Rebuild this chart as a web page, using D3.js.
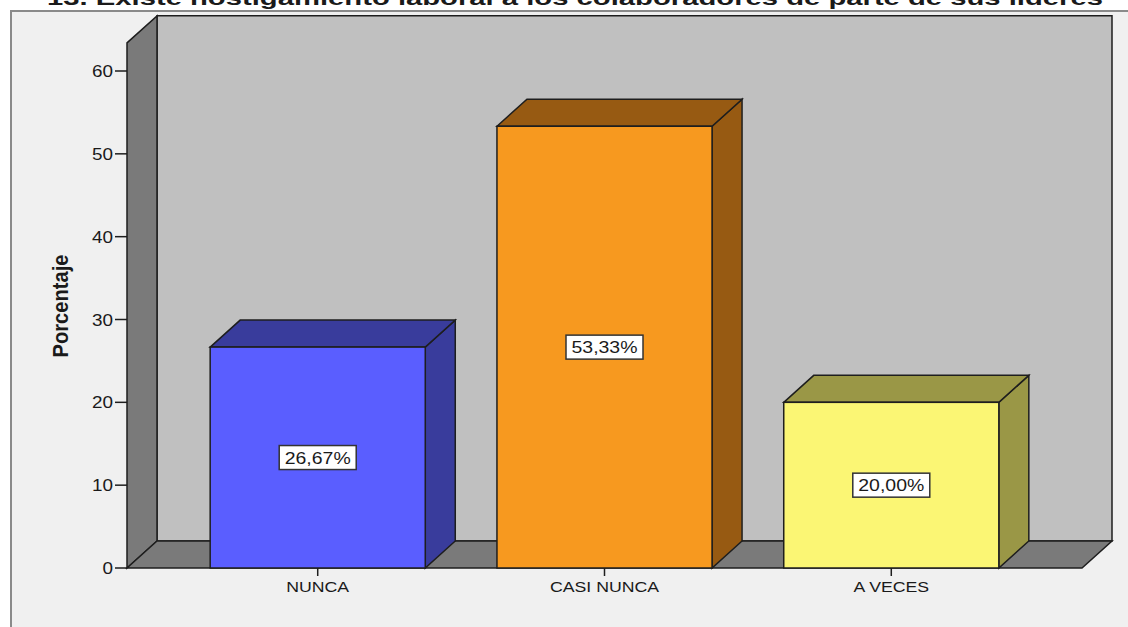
<!DOCTYPE html>
<html>
<head>
<meta charset="utf-8">
<script src="https://cdn.jsdelivr.net/npm/d3@7"></script>
<style>
  html, body { margin: 0; padding: 0; background: #ffffff; }
  svg { display: block; }
  text { font-family: "Liberation Sans", Arial, sans-serif; fill: #1a1a1a; }
</style>
</head>
<body>
<svg id="chart" width="1128" height="627"></svg>
<script>
// Data
const titleText = "13. Existe hostigamiento laboral a los colaboradores de parte de sus líderes";
const categories = ["NUNCA", "CASI NUNCA", "A VECES"];
const percentages = [26.67, 53.33, 20.00];
const valueLabels = ["26,67%", "53,33%", "20,00%"];
const yTicks = [0, 10, 20, 30, 40, 50, 60];
const axisTitle = "Porcentaje";
const frontColors = ["#5a5eff", "#f7991f", "#fbf674"];
const shadeColors = ["#393c9c", "#975a12", "#9a9746"];

const svg = d3.select("#chart");
const W = 1128, H = 627;

// Plot geometry (front plane) and 3D depth offset
const plotLeft = 127, plotRight = 1082, base = 568;
const depthX = 30, depthY = 27;
const axisMax = 63.4;
const hStretch = 1.18; // horizontal glyph stretch used by all labels

const y = d3.scaleLinear().domain([0, 60]).range([base, 71]);
const x = d3.scaleBand().domain(categories).range([plotLeft, plotRight])
  .paddingInner(0.25).paddingOuter(0.29);

const edge = "#1e1e1e";

// Outer frame
svg.append("rect").attr("x", 0).attr("y", 0).attr("width", W).attr("height", H).attr("fill", "#ffffff");
svg.append("rect").attr("x", 11).attr("y", 11).attr("width", W + 20).attr("height", H + 20)
  .attr("fill", "#f0f0f0").attr("stroke", "#8a8a8a").attr("stroke-width", 2);

// Title, partially above the top edge
svg.append("text")
  .attr("x", 575).attr("y", 5)
  .attr("text-anchor", "middle")
  .attr("font-size", 21).attr("font-weight", "bold")
  .attr("textLength", 1056).attr("lengthAdjust", "spacingAndGlyphs")
  .text(titleText);

const wallTop = y(axisMax);
const pts = a => a.map(p => p.join(",")).join(" ");

// Back wall
svg.append("polygon")
  .attr("points", pts([[plotLeft + depthX, wallTop - depthY], [plotRight + depthX, wallTop - depthY],
                       [plotRight + depthX, base - depthY], [plotLeft + depthX, base - depthY]]))
  .attr("fill", "#c0c0c0").attr("stroke", edge).attr("stroke-width", 1.5);

// Left side wall
svg.append("polygon")
  .attr("points", pts([[plotLeft, wallTop], [plotLeft + depthX, wallTop - depthY],
                       [plotLeft + depthX, base - depthY], [plotLeft, base]]))
  .attr("fill", "#7a7a7a").attr("stroke", edge).attr("stroke-width", 1.5);

// Floor
svg.append("polygon")
  .attr("points", pts([[plotLeft, base], [plotLeft + depthX, base - depthY],
                       [plotRight + depthX, base - depthY], [plotRight, base]]))
  .attr("fill", "#7a7a7a").attr("stroke", edge).attr("stroke-width", 1.5);

// Bars
const bars = svg.append("g");
categories.forEach((c, i) => {
  const x0 = x(c), x1 = x0 + x.bandwidth(), yv = y(percentages[i]);
  const g = bars.append("g");
  g.append("polygon")
    .attr("points", pts([[x1, yv], [x1 + depthX, yv - depthY], [x1 + depthX, base - depthY], [x1, base]]))
    .attr("fill", shadeColors[i]).attr("stroke", edge).attr("stroke-width", 1.5);
  g.append("polygon")
    .attr("points", pts([[x0, yv], [x0 + depthX, yv - depthY], [x1 + depthX, yv - depthY], [x1, yv]]))
    .attr("fill", shadeColors[i]).attr("stroke", edge).attr("stroke-width", 1.5);
  g.append("rect")
    .attr("x", x0).attr("y", yv).attr("width", x1 - x0).attr("height", base - yv)
    .attr("fill", frontColors[i]).attr("stroke", edge).attr("stroke-width", 1.5);
});

// Y axis ticks and labels
const yAxis = svg.append("g");
yTicks.forEach(t => {
  yAxis.append("line")
    .attr("x1", plotLeft - 12).attr("x2", plotLeft).attr("y1", y(t)).attr("y2", y(t))
    .attr("stroke", edge).attr("stroke-width", 1.5);
  yAxis.append("text")
    .attr("transform", `translate(${plotLeft - 14},${y(t) + 6}) scale(${hStretch},1)`)
    .attr("text-anchor", "end").attr("font-size", 16)
    .text(t);
});

// Axis title
svg.append("text")
  .attr("transform", `translate(68,306) rotate(-90)`)
  .attr("text-anchor", "middle")
  .attr("font-size", 22).attr("font-weight", "bold")
  .attr("textLength", 103).attr("lengthAdjust", "spacingAndGlyphs")
  .text(axisTitle);

// X axis ticks and category labels
const xAxis = svg.append("g");
categories.forEach(c => {
  const cx = x(c) + x.bandwidth() / 2;
  xAxis.append("line")
    .attr("x1", cx).attr("x2", cx).attr("y1", base).attr("y2", base + 8)
    .attr("stroke", edge).attr("stroke-width", 1.5);
  xAxis.append("text")
    .attr("transform", `translate(${cx},${base + 24}) scale(${hStretch},1)`)
    .attr("text-anchor", "middle").attr("font-size", 15)
    .text(c);
});

// Value labels in boxes at the middle of each bar
const vl = svg.append("g");
categories.forEach((c, i) => {
  const cx = x(c) + x.bandwidth() / 2;
  const cy = (y(percentages[i]) + base) / 2;
  const bw = 77, bh = 24;
  vl.append("rect")
    .attr("x", cx - bw / 2).attr("y", cy - bh / 2).attr("width", bw).attr("height", bh)
    .attr("fill", "#ffffff").attr("stroke", "#333333").attr("stroke-width", 1.5);
  vl.append("text")
    .attr("transform", `translate(${cx},${cy + 6}) scale(${hStretch},1)`)
    .attr("text-anchor", "middle").attr("font-size", 16.5)
    .text(valueLabels[i]);
});
</script>
</body>
</html>
